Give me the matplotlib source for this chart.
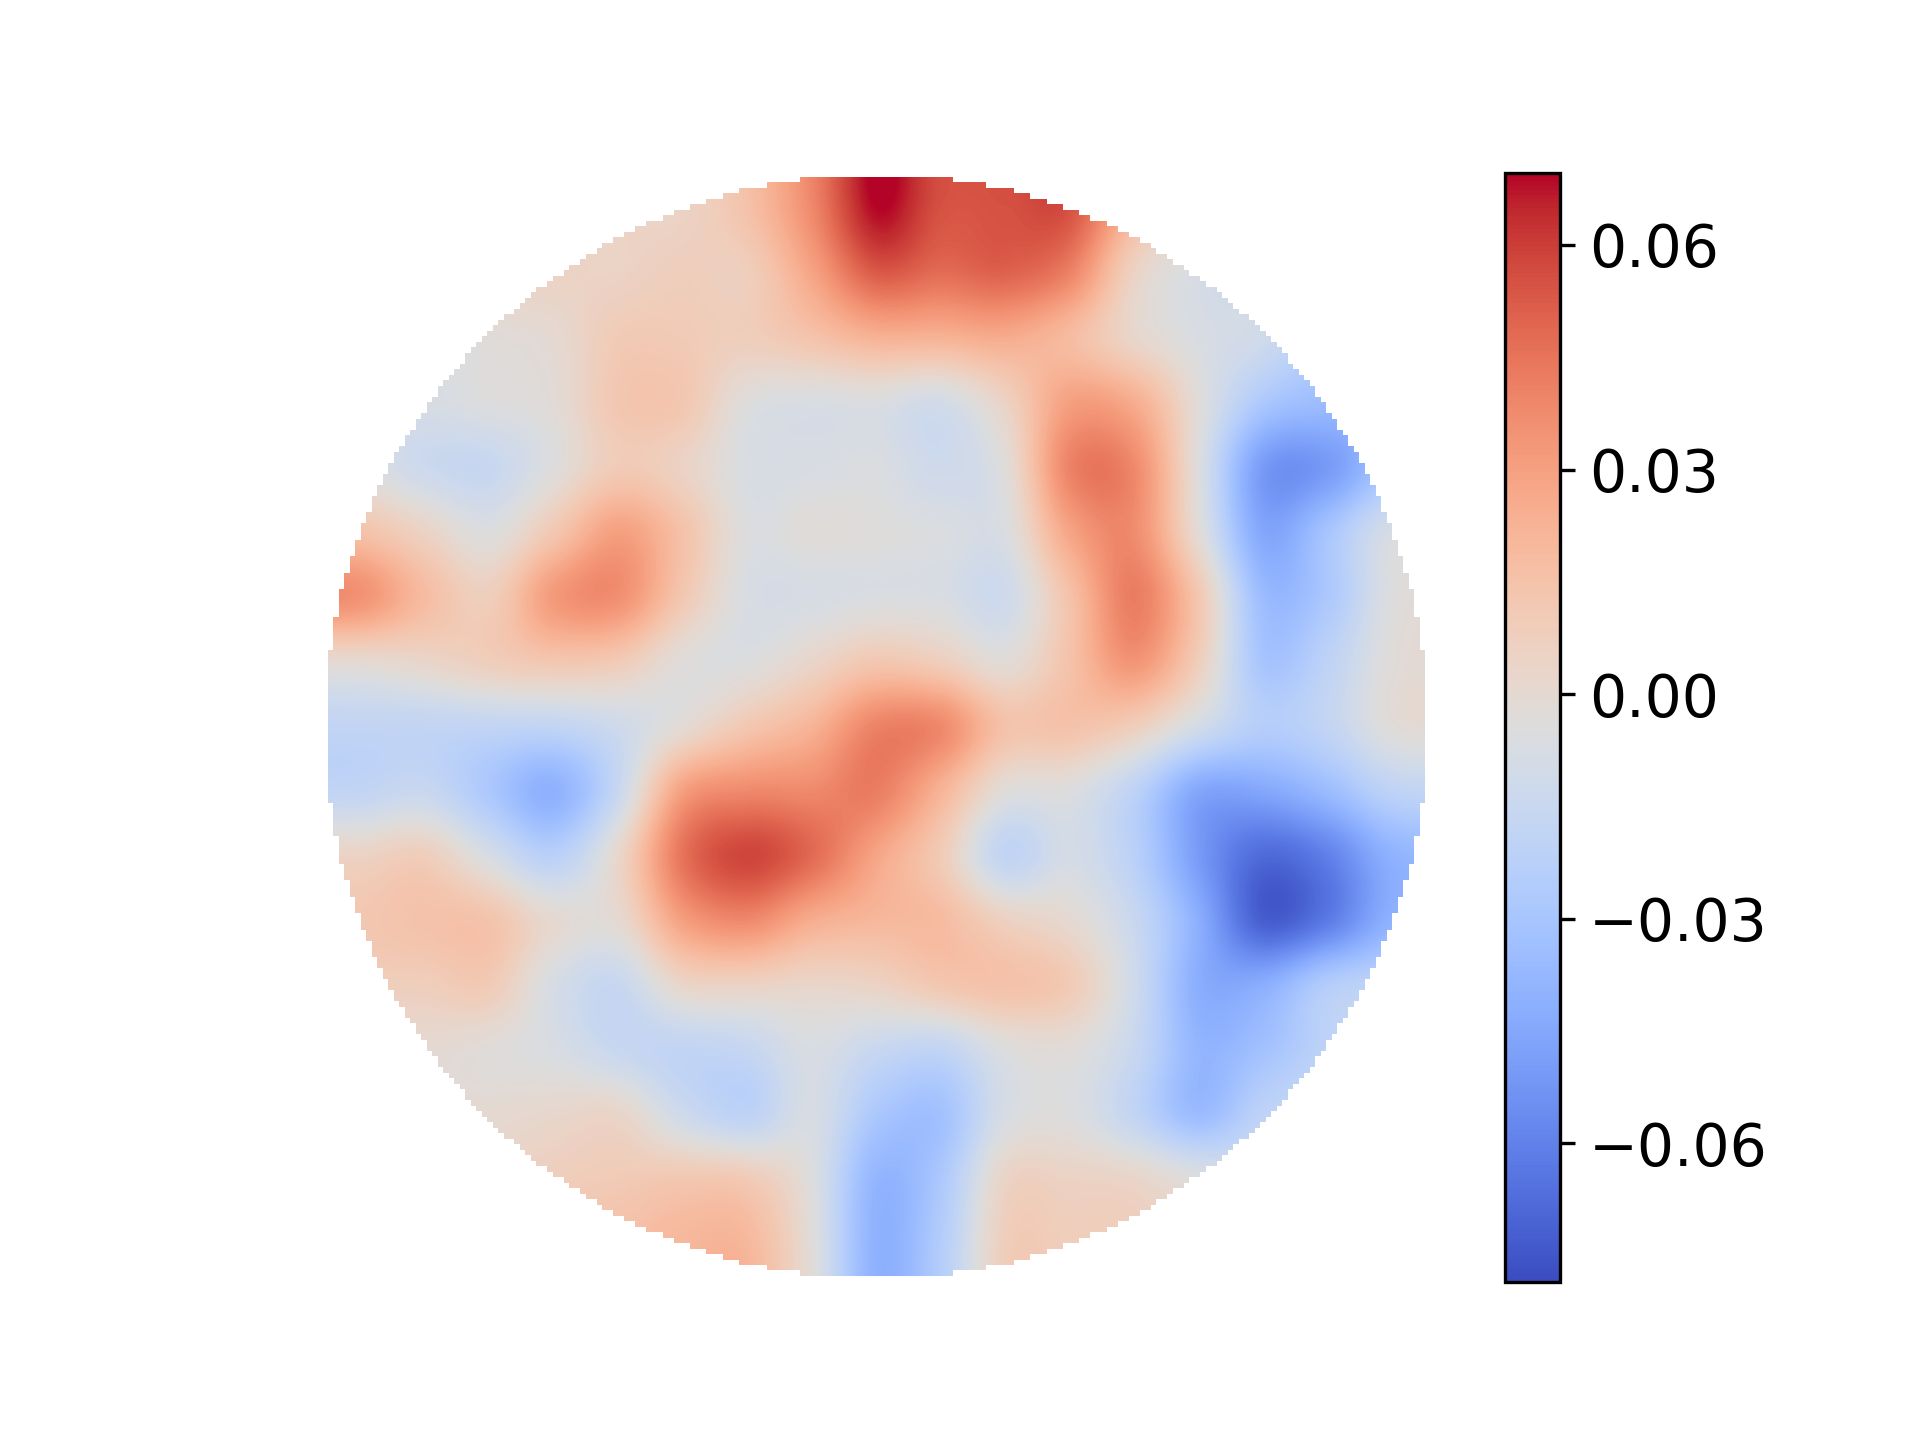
"""Disk heatmap with a side colorbar."""

import numpy as np
import matplotlib
matplotlib.use("Agg")
import matplotlib.pyplot as plt

W, H = 1920, 1440

# values (x1000), 17 x 17 nodes across the disk, top row first
row_00 = [5, 5, 5, 5, 5, 5, 15, 38, 69, 55, 55, 55, 20, 0, -10, -15, -15]
row_01 = [5, 5, 5, 5, 5, 8, 8, 28, 52, 47, 50, 40, 5, -8, -12, -15, -20]
row_02 = [-5, -5, -3, 0, 10, 10, 8, 14, 22, 22, 25, 18, 3, -7, -12, -25, -30]
row_03 = [-8, -8, -5, -2, 12, 12, -4, -7, -6, -10, 5, 30, 25, -3, -28, -35, -35]
row_04 = [-5, -13, -15, -4, 10, 5, -7, -7, -6, -12, -3, 40, 38, -5, -50, -50, -30]
row_05 = [15, 5, -5, 12, 30, 15, -5, -3, -4, -6, -6, 28, 37, -2, -45, -30, -8]
row_06 = [35, 18, 8, 32, 36, 12, -7, -8, -6, -7, -12, 15, 42, 12, -35, -28, -5]
row_07 = [0, 3, 8, 12, 10, -3, -5, 3, 12, 8, -2, 15, 34, 8, -30, -20, -3]
row_08 = [-18, -18, -18, -18, -12, -1, 12, 22, 40, 38, 15, 15, 8, -10, -24, -18, -3]
row_09 = [-18, -15, -28, -40, -15, 30, 38, 38, 42, 22, -3, -5, -20, -45, -45, -35, -20]
row_10 = [5, 8, -8, -22, 2, 45, 58, 48, 28, 10, -18, -9, -22, -50, -68, -60, -40]
row_11 = [12, 15, 14, 0, 0, 30, 38, 25, 20, 18, 6, 0, -15, -42, -72, -62, -40]
row_12 = [8, 8, 10, -8, -15, 3, 5, 3, 5, 12, 15, 10, -12, -42, -42, -25, -20]
row_13 = [0, 0, -3, -7, -15, -18, -16, -7, -15, -18, -5, -3, -15, -38, -32, -20, -15]
row_14 = [0, 0, 0, 2, 3, -12, -20, -8, -28, -32, -8, -5, -18, -35, -20, -15, -10]
row_15 = [5, 5, 5, 8, 10, 12, 10, -5, -38, -28, 4, 5, 3, -5, -10, -10, -10]
row_16 = [5, 5, 10, 15, 16, 20, 20, -3, -40, -25, 8, 8, 8, 0, -5, -5, -5]

vmin, vmax = -0.0785, 0.0696
cbar_ticks = [-0.06, -0.03, 0.0, 0.03, 0.06]
cbar_labels = ["\u22120.06", "\u22120.03", "0.00", "0.03", "0.06"]

field = np.array([row_00, row_01, row_02, row_03, row_04, row_05, row_06, row_07, row_08,
                  row_09, row_10, row_11, row_12, row_13, row_14, row_15, row_16]) / 1000.0

fig = plt.figure(figsize=(6.4, 4.8), dpi=300)

# disk axes, pixel box
x0, x1, y0, y1 = 328, 1425, 177, 1276
ax = fig.add_axes([x0 / W, 1 - y1 / H, (x1 - x0) / W, (y1 - y0) / H])
im = ax.imshow(field, cmap="coolwarm", vmin=vmin, vmax=vmax, extent=(-1, 1, -1, 1),
               interpolation="catrom", aspect="auto")

# stepped edge of the disk: white cover on a 200 x 200 cell grid
n = 200
c = (np.arange(n) + 0.5) / n * 2 - 1
xx, yy = np.meshgrid(c, c)
cover = np.zeros((n, n, 4))
cover[..., :3] = 1.0
cover[..., 3] = (np.hypot(xx, yy) > 1.0055).astype(float)
ax.imshow(cover, extent=(-1, 1, -1, 1), interpolation="nearest", aspect="auto")
ax.set_xlim(-1, 1)
ax.set_ylim(-1, 1)
ax.axis("off")

cax = fig.add_axes([1505 / W, 1 - 1282 / H, 55 / W, 1109 / H])
cbar = fig.colorbar(im, cax=cax)
cbar.set_ticks(cbar_ticks)
cbar.set_ticklabels(cbar_labels)
cbar.ax.tick_params(labelsize=14)

fig.savefig("out.png", dpi=300)
